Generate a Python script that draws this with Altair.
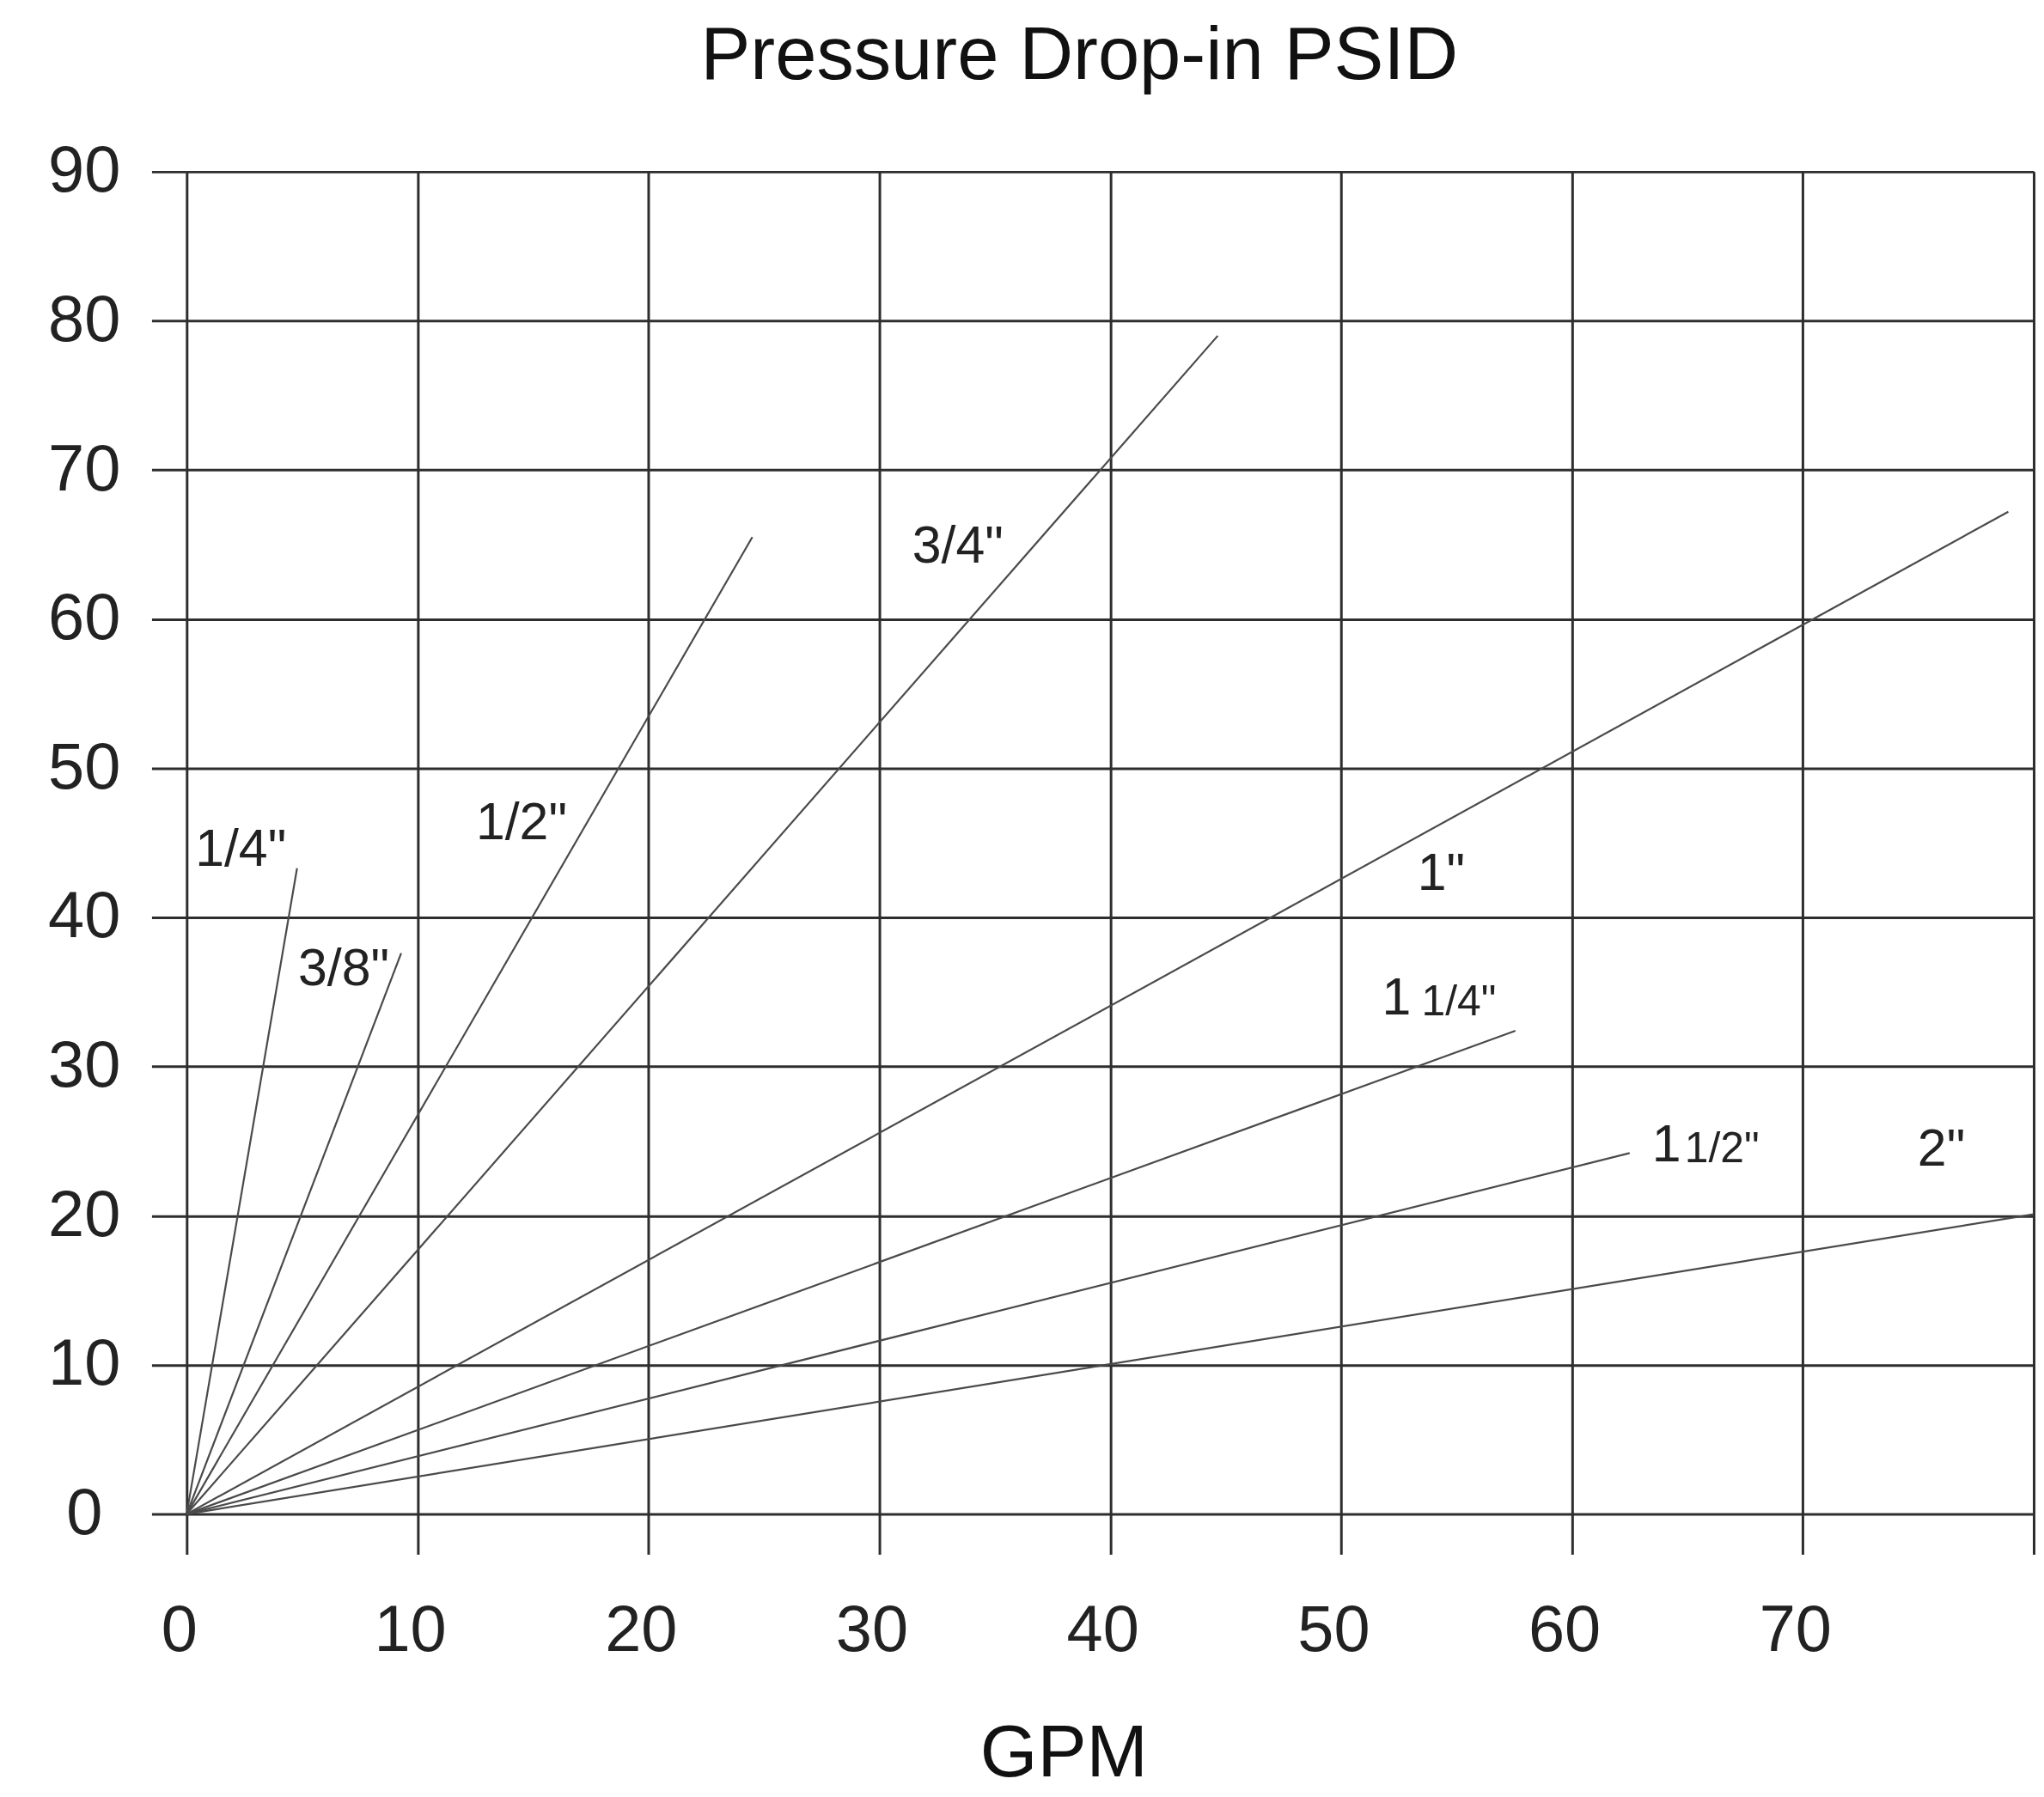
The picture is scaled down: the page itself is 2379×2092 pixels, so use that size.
import altair as alt
import pandas as pd

# Pipe sizes and end points of each straight pressure-drop line (GPM, PSID)
sizes = ['1/4"', '3/8"', '1/2"', '3/4"', '1"', '1 1/4"', '1 1/2"', '2"']
end_gpm = [4.78, 9.29, 24.5, 44.66, 78.9, 57.55, 62.5, 80.0]
end_psid = [43.3, 37.6, 65.5, 79.0, 67.2, 32.4, 24.2, 20.1]

# Main labels
label_text = ['1/4"', '3/8"', '1/2"', '3/4"', '1"', '1', '1', '2"']
label_gpm = [2.34, 6.8, 14.5, 33.4, 54.34, 52.4, 64.1, 76.0]
label_psid = [44.5, 36.5, 46.3, 64.8, 42.9, 34.5, 24.67, 24.4]

# Small fraction parts of the mixed-number labels
frac_text = ['1/4"', '1/2"']
frac_gpm = [55.1, 66.5]
frac_psid = [34.3, 24.45]

x_ticks = [0, 10, 20, 30, 40, 50, 60, 70, 80]
y_ticks = [0, 10, 20, 30, 40, 50, 60, 70, 80, 90]

rows = []
for s, gx, gy in zip(sizes, end_gpm, end_psid):
    rows.append({"size": s, "gpm": 0.0, "psid": 0.0, "o": 0})
    rows.append({"size": s, "gpm": gx, "psid": gy, "o": 1})
lines_df = pd.DataFrame(rows)
labels_df = pd.DataFrame({"t": label_text, "gpm": label_gpm, "psid": label_psid})
frac_df = pd.DataFrame({"t": frac_text, "gpm": frac_gpm, "psid": frac_psid})

FONT = "Liberation Sans"
GRID = "#2e2e2e"

x_enc = alt.X(
    "gpm:Q",
    scale=alt.Scale(domain=[0, 80], nice=False, zero=True),
    axis=alt.Axis(
        values=x_ticks,
        labelExpr="datum.value == 80 ? '' : datum.label",
        grid=True, gridColor=GRID, gridWidth=3, gridOpacity=1,
        ticks=True, tickSize=47, tickColor=GRID, tickWidth=3,
        domain=False,
        labelFont=FONT, labelFontSize=76, labelColor="#222",
        labelPadding=52, labelBaseline="top", labelOffset=-9,
        labelFlush=False,
        title="GPM", titleFont=FONT, titleFontSize=86, titleFontWeight="normal",
        titleColor="#111", titleX=1024, titleY=306, titleBaseline="alphabetic",
        titleAlign="center", titleAnchor="start",
    ),
)
y_enc = alt.Y(
    "psid:Q",
    scale=alt.Scale(domain=[0, 90], nice=False, zero=True),
    axis=alt.Axis(
        values=y_ticks,
        grid=True, gridColor=GRID, gridWidth=3, gridOpacity=1,
        ticks=True, tickSize=41, tickColor=GRID, tickWidth=3,
        domain=False,
        labelFont=FONT, labelFontSize=76, labelColor="#222",
        labelAlign="center", labelBaseline="middle", labelPadding=79,
        title=None,
    ),
)

lines = alt.Chart(lines_df).mark_line(color="#4a4a4a", strokeWidth=2.2).encode(
    x=x_enc, y=y_enc, detail="size:N", order="o:Q"
)

labels = alt.Chart(labels_df).mark_text(
    font=FONT, fontSize=61, color="#222", align="center", baseline="middle"
).encode(x="gpm:Q", y="psid:Q", text="t:N")

fracs = alt.Chart(frac_df).mark_text(
    font=FONT, fontSize=50, color="#222", align="center", baseline="middle"
).encode(x="gpm:Q", y="psid:Q", text="t:N")

chart = alt.layer(lines, labels, fracs).properties(
    width=2157,
    height=1568,
    autosize=alt.AutoSizeParams(type="none"),
    padding={"left": 210, "top": 189, "right": 4, "bottom": 326},
    title=alt.TitleParams(
        "Pressure Drop-in PSID", font=FONT, fontSize=87, fontWeight="normal",
        color="#111", anchor="middle", dx=-36, offset=52,
    ),
).configure_view(stroke=None).configure(background="white")

chart.save("out.html", embed_options={"renderer": "svg", "actions": False})
